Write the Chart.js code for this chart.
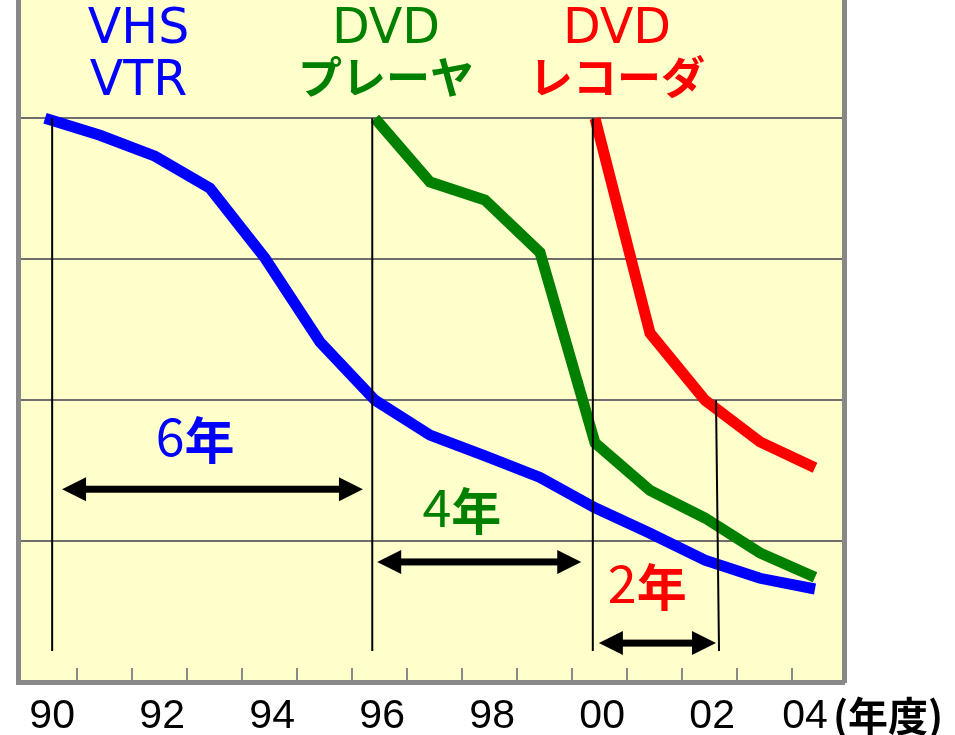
<!DOCTYPE html>
<html>
<head>
<meta charset="utf-8">
<script src="https://cdn.jsdelivr.net/npm/chart.js@4.4.1/dist/chart.umd.min.js"></script>
<style>
  html, body { margin: 0; padding: 0; background: #ffffff; }
  #wrap { width: 955px; height: 735px; position: relative; }
</style>
</head>
<body>
<div id="wrap"><canvas id="c" width="955" height="735"></canvas></div>
<script>
// Price index by fiscal year (first year of each product = 100)
const years = [1990, 1991, 1992, 1993, 1994, 1995, 1996, 1997, 1998, 1999, 2000, 2001, 2002, 2003, 2004];
const vhsVtr      = [100, 97, 93.3, 87.6, 75.2, 60.3, 50, 43.8, 40.1, 36.3, 30.9, 26.4, 21.6, 18.4, 16.5];
const dvdPlayer   = [null, null, null, null, null, null, 100, 88.7, 85.5, 76.2, 42.4, 34.0, 29.1, 22.9, 18.6];
const dvdRecorder = [null, null, null, null, null, null, null, null, null, null, 100, 61.9, 50, 42.6, 38.0];

const seriesNames = [['VHS', 'VTR'], ['DVD', 'プレーヤ'], ['DVD', 'レコーダ']];
const seriesColors = ['#0000ff', '#008000', '#ff0000'];

// Axis ticks
const tickYears  = [1990, 1992, 1994, 1996, 1998, 2000, 2002, 2004];
const tickLabels = ['90', '92', '94', '96', '98', '00', '02', '04'];
const yGridValues = [25, 50, 75, 100];

// Years needed to reach half price
const halfYears = ['6', '4', '2'];
// guide lines (year, top value) and the arrows between them
const guideYears = [1990.13, 1995.95, 1999.96, 2002.2];
const guideTops  = [100, 100, 100, 50];
const arrowFrom  = [1990.31, 1996.04, 2000.07];
const arrowTo    = [1995.78, 1999.75, 2002.2];
const arrowLevel = [34.2, 21.3, 6.9];
const spanLabelYear  = [1992.73, 1997.58, 2000.95];
const spanLabelLevel = [40.1, 27.5, 14];
const nameYears = [1991.7, 1996.2, 2000.4];

const LATIN = '"DejaVu Sans", sans-serif';
const CJK = '"Noto Sans CJK JP", sans-serif';

const overlay = {
  id: 'overlay',
  beforeDraw(chart) {
    const { ctx, chartArea: a } = chart;
    ctx.save();
    ctx.fillStyle = '#ffffcc';
    ctx.fillRect(a.left, a.top, a.right - a.left, a.bottom - a.top);
    ctx.restore();
  },
  afterDatasetsDraw(chart) {
    const { ctx, chartArea: a } = chart;
    const xs = chart.scales.x, ys = chart.scales.y;
    ctx.save();

    // small inner tick marks between the years
    ctx.strokeStyle = '#8a8a8a';
    ctx.lineWidth = 2;
    for (let yr = years[0]; yr < years[years.length - 1]; yr++) {
      const px = Math.round(xs.getPixelForValue(yr + 0.58));
      ctx.beginPath();
      ctx.moveTo(px, a.bottom - 14);
      ctx.lineTo(px, a.bottom - 2);
      ctx.stroke();
    }

    // vertical guides
    ctx.strokeStyle = '#000000';
    ctx.lineWidth = 2;
    guideYears.forEach((yr, i) => {
      const px = xs.getPixelForValue(yr);
      ctx.beginPath();
      ctx.moveTo(px, ys.getPixelForValue(guideTops[i]));
      ctx.lineTo(px + (i === 3 ? 3 : 0), ys.getPixelForValue(5.5));
      ctx.stroke();
    });

    // double arrows
    ctx.fillStyle = '#000000';
    arrowFrom.forEach((x0, i) => {
      const p0 = xs.getPixelForValue(x0), p1 = xs.getPixelForValue(arrowTo[i]);
      const py = ys.getPixelForValue(arrowLevel[i]);
      const head = 24, half = 12;
      ctx.fillRect(p0 + head - 2, py - 3.5, (p1 - p0) - 2 * head + 4, 7);
      ctx.beginPath();
      ctx.moveTo(p0, py); ctx.lineTo(p0 + head, py - half); ctx.lineTo(p0 + head, py + half); ctx.closePath();
      ctx.fill();
      ctx.beginPath();
      ctx.moveTo(p1, py); ctx.lineTo(p1 - head, py - half); ctx.lineTo(p1 - head, py + half); ctx.closePath();
      ctx.fill();
    });

    // "N年" labels
    ctx.textBaseline = 'alphabetic';
    ctx.textAlign = 'left';
    halfYears.forEach((n, i) => {
      const cx = xs.getPixelForValue(spanLabelYear[i]);
      const by = ys.getPixelForValue(spanLabelLevel[i]);
      const numFont = '400 52px ' + CJK, kanjiFont = 'bold 50px ' + CJK;
      ctx.font = numFont; const w1 = ctx.measureText(n).width;
      ctx.font = kanjiFont; const w2 = ctx.measureText('年').width;
      const x0 = cx - (w1 + w2) / 2;
      ctx.fillStyle = seriesColors[i];
      ctx.font = numFont; ctx.fillText(n, x0, by);
      ctx.font = kanjiFont; ctx.fillText('年', x0 + w1, by + 3);
    });

    // series names at the top
    ctx.textAlign = 'center';
    seriesNames.forEach((lines, i) => {
      const cx = xs.getPixelForValue(nameYears[i]);
      ctx.fillStyle = seriesColors[i];
      ctx.font = '49px ' + LATIN;
      ctx.fillText(lines[0], cx, 43);
      if (i === 0) {
        ctx.font = '49px ' + LATIN;
        ctx.fillText(lines[1], cx, 95);
      } else {
        ctx.font = 'bold 44px ' + CJK;
        ctx.fillText(lines[1], cx, 94);
      }
    });
    ctx.restore();
  },
  afterDraw(chart) {
    const { ctx } = chart;
    ctx.save();
    ctx.fillStyle = '#000000';
    ctx.textBaseline = 'alphabetic';
    ctx.textAlign = 'left';
    ctx.font = 'bold 40px ' + CJK;
    ctx.fillText('(年度)', 833, 731);
    ctx.restore();
  }
};

const mkSet = (label, data, color) => ({
  label, data, borderColor: color, backgroundColor: color,
  borderWidth: 11, pointRadius: 0, tension: 0, fill: false,
  borderCapStyle: 'butt', borderJoinStyle: 'miter', spanGaps: false
});

new Chart(document.getElementById('c'), {
  type: 'line',
  data: {
    datasets: [
      mkSet('VHS VTR', years.map((y, i) => ({ x: y, y: vhsVtr[i] })), seriesColors[0]),
      mkSet('DVD プレーヤ', years.map((y, i) => ({ x: y, y: dvdPlayer[i] })), seriesColors[1]),
      mkSet('DVD レコーダ', years.map((y, i) => ({ x: y, y: dvdRecorder[i] })), seriesColors[2])
    ]
  },
  options: {
    responsive: false,
    animation: false,
    events: [],
    layout: { padding: 0 },
    plugins: { legend: { display: false }, tooltip: { enabled: false } },
    scales: {
      x: {
        type: 'linear',
        position: 'bottom',
        min: 1989.509,
        max: 2004.527,
        afterBuildTicks(scale) {
          // labels sit a little right of the year, the last one kept clear of the unit
          scale.ticks = tickYears.map(v => ({ value: Math.min(v + 0.13, 2003.82) }));
        },
        afterFit(scale) { scale.height = 53; },
        grid: { display: false, drawTicks: false },
        border: { display: true, color: '#888888', width: 5 },
        ticks: {
          autoSkip: false, maxRotation: 0, padding: 10, color: '#000000',
          font: { family: '"Liberation Sans", Arial, sans-serif', size: 41 },
          callback: (v, i) => tickLabels[i]
        }
      },
      y: {
        type: 'linear',
        position: 'left',
        min: 0,
        max: 121,
        afterBuildTicks(scale) { scale.ticks = yGridValues.map(v => ({ value: v })); },
        afterFit(scale) { scale.width = 18; },
        grid: { color: '#6e6e6e', lineWidth: 2, drawTicks: false },
        border: { display: true, color: '#888888', width: 5 },
        ticks: { display: false }
      },
      y2: {
        type: 'linear',
        position: 'right',
        min: 0,
        max: 121,
        afterFit(scale) { scale.width = 111; },
        grid: { drawOnChartArea: false, drawTicks: false },
        border: { display: true, color: '#888888', width: 5 },
        ticks: { display: false }
      }
    }
  },
  plugins: [overlay]
});
</script>
</body>
</html>
